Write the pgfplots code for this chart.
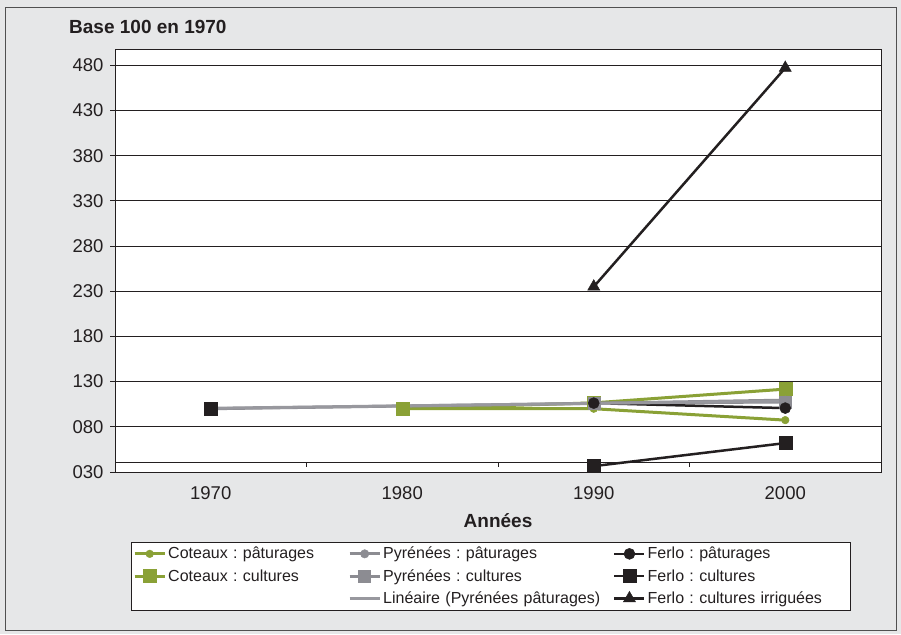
\documentclass[border=0pt]{standalone}
\usepackage{fontspec}
\setmainfont{Liberation Sans}
\usepackage{pgfplots}
\pgfplotsset{compat=1.18}
\frenchspacing
\definecolor{cgreen}{RGB}{138,161,54}
\definecolor{cgray}{RGB}{140,140,146}
\definecolor{ctrend}{RGB}{152,152,158}
\definecolor{cblack}{RGB}{35,31,32}
\definecolor{cbg}{RGB}{230,231,232}
\definecolor{cframe}{RGB}{80,80,80}
\pgfplotsset{
  cotp/.style={cgreen, line width=3pt, mark=*, mark size=3.8pt, mark options={solid, fill=cgreen, line width=0.5pt}},
  cotc/.style={cgreen, line width=3pt, mark=square*, mark size=6.5pt, mark options={solid, fill=cgreen, line width=0.5pt}},
  pyrp/.style={cgray, line width=3pt, mark=*, mark size=4.2pt, mark options={solid, fill=cgray, line width=0.5pt}},
  pyrc/.style={cgray, line width=3pt, mark=square*, mark size=6pt, mark options={solid, fill=cgray, line width=0.5pt}},
  ferp/.style={cblack, line width=2.5pt, mark=*, mark size=5.5pt, mark options={solid, fill=cblack, line width=0.5pt}},
  ferc/.style={cblack, line width=2.5pt, mark=square*, mark size=6.5pt, mark options={solid, fill=cblack, line width=0.5pt}},
  feri/.style={cblack, line width=2.5pt, mark=triangle*, mark size=7pt, mark options={solid, fill=cblack, line width=0.5pt}},
  trend/.style={ctrend, line width=3pt, no marks},
}
\begin{document}
\frenchspacing
\begin{tikzpicture}[x=1pt,y=1pt]
\fill[cbg] (0,0) rectangle (901,634);
\draw[cframe, line width=1pt] (5,4) rectangle (896,626);
\node[anchor=west, font=\fontsize{19}{22}\selectfont\bfseries, text=cblack, inner sep=0] at (69,607) {Base 100 en 1970};
\node[font=\fontsize{19}{22}\selectfont\bfseries, text=cblack, inner sep=0] at (498,113) {Années};
\begin{axis}[
  at={(115pt,162pt)}, anchor=south west, scale only axis,
  width=766pt, height=423pt,
  xmin=-0.5, xmax=3.5, ymin=30, ymax=498,
  axis background/.style={fill=white},
  xtick={0,1,2,3}, xticklabels={1970,1980,1990,2000},
  ytick={30,80,...,480}, yticklabels={030,080,130,180,230,280,330,380,430,480},
  ytick pos=left,
  ymajorgrids, grid style={cblack, line width=0.8pt},
  axis line style={cblack, line width=0.8pt},
  x tick style={draw=none},
  y tick style={cblack, line width=0.8pt},
  tick align=outside, major tick length=5pt,
  ticklabel style={font=\fontsize{18.5}{22}\selectfont, text=cblack},
  xticklabel style={yshift=-6pt},
  yticklabel style={xshift=-3pt},
  /pgf/number format/assume math mode=true,
  unbounded coords=jump,
  clip=false,
  legend columns=3,
  legend cell align=left,
  legend image code/.code={\draw[mark repeat=2,mark phase=2,#1] plot coordinates {(0pt,0pt) (15pt,0pt) (30pt,0pt)};},
  legend style={at={(axis description cs:0.0209,-0.1655)}, anchor=north west,
    draw=cblack, fill=white, font=\fontsize{16}{19}\selectfont\frenchspacing, text=cblack,
    column sep=0pt, row sep=5pt, inner xsep=2pt, inner ysep=3pt,
    /tikz/column 2/.style={text width=178pt, align=left},
    /tikz/column 4/.style={text width=228pt, align=left},
    /tikz/column 6/.style={text width=198pt, align=left}},
]
% extra horizontal axis line with boundary ticks
\draw[cblack, line width=0.8pt] (axis cs:-0.5,41) -- (axis cs:3.5,41);
\draw[cblack, line width=0.8pt] (axis cs:0.5,41) -- ([yshift=-5pt]axis cs:0.5,41);
\draw[cblack, line width=0.8pt] (axis cs:1.5,41) -- ([yshift=-5pt]axis cs:1.5,41);
\draw[cblack, line width=0.8pt] (axis cs:2.5,41) -- ([yshift=-5pt]axis cs:2.5,41);

\addplot[cotp, forget plot] coordinates {(1,100) (2,100) (3,87.4)};
\addplot[cotc, forget plot] coordinates {(1,100) (2,106.5) (3,121.7)};
\addplot[pyrp, forget plot] coordinates {(0,100) (2,106) (3,109.5)};
\addplot[pyrc, forget plot] coordinates {(2,106) (3,107.5)};
\addplot[ferp, forget plot] coordinates {(2,106.2) (3,100.7)};
\addplot[ferc, forget plot] coordinates {(0,100) (1,nan) (2,36.5) (3,62)};
\addplot[feri, forget plot] coordinates {(2,235) (3,477)};
\addplot[trend, forget plot] coordinates {(0,100.5) (3,108.5)};

\addlegendimage{cotp}\addlegendentry{Coteaux : pâturages}
\addlegendimage{pyrp}\addlegendentry{Pyrénées : pâturages}
\addlegendimage{ferp}\addlegendentry{Ferlo : pâturages}
\addlegendimage{cotc}\addlegendentry{Coteaux : cultures}
\addlegendimage{pyrc}\addlegendentry{Pyrénées : cultures}
\addlegendimage{ferc}\addlegendentry{Ferlo : cultures}
\addlegendimage{empty legend}\addlegendentry{}
\addlegendimage{trend}\addlegendentry{Linéaire (Pyrénées pâturages)}
\addlegendimage{feri}\addlegendentry{Ferlo : cultures irriguées}
\end{axis}
\end{tikzpicture}
\end{document}
